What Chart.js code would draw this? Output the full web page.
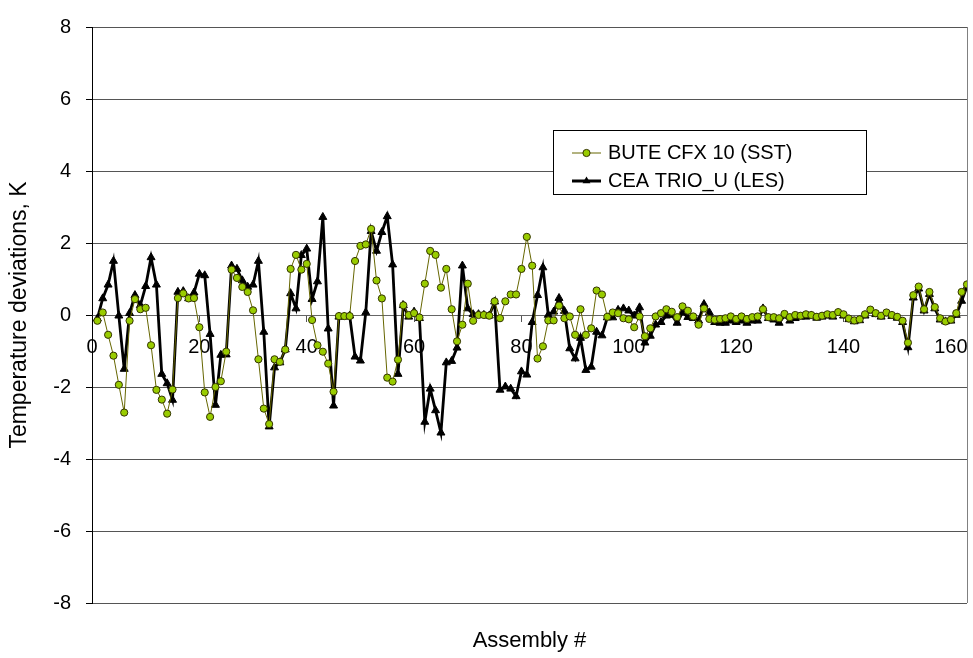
<!DOCTYPE html>
<html>
<head>
<meta charset="utf-8">
<script src="https://cdn.jsdelivr.net/npm/chart.js@4.4.1/dist/chart.umd.min.js"></script>
<style>
  html, body { margin: 0; padding: 0; background: #fff; }
  #wrap { width: 973px; height: 658px; }
</style>
</head>
<body>
<div id="wrap"><canvas id="chart" width="973" height="658"></canvas></div>
<script>
// temperature deviations per assembly
const seriesNames = ["BUTE CFX 10 (SST)", "CEA TRIO_U (LES)"];

const bute = [
  -0.16, 0.07, -0.55, -1.13, -1.94, -2.71, -0.16, 0.44, 0.16, 0.2,
  -0.84, -2.08, -2.35, -2.74, -2.07, 0.47, 0.6, 0.46, 0.47, -0.34,
  -2.15, -2.83, -2.0, -1.84, -1.02, 1.26, 1.03, 0.78, 0.64, 0.13,
  -1.23, -2.6, -3.03, -1.23, -1.3, -0.96, 1.28, 1.67, 1.26, 1.42,
  -0.14, -0.84, -1.02, -1.35, -2.13, -0.03, -0.03, -0.03, 1.5, 1.92,
  1.96, 2.39, 0.96, 0.46, -1.74, -1.85, -1.24, 0.27, 0.0, 0.05,
  -0.07, 0.87, 1.78, 1.67, 0.76, 1.28, 0.16, -0.73, -0.27, 0.87,
  -0.16, 0.0, 0.0, -0.02, 0.38, -0.09, 0.38, 0.57, 0.57, 1.28,
  2.17, 1.37, -1.21, -0.87, -0.15, -0.15, 0.26, -0.09, -0.04, -0.55,
  0.16, -0.55, -0.37, 0.68, 0.57, -0.05, 0.07, 0.05, -0.09, -0.12,
  -0.34, -0.04, -0.59, -0.37, -0.04, 0.05, 0.16, 0.09, -0.06, 0.24,
  0.12, -0.04, -0.27, 0.18, -0.11, -0.13, -0.11, -0.09, -0.04, -0.11,
  -0.04, -0.11, -0.06, -0.04, 0.16, -0.06, -0.06, -0.09, 0.03, -0.06,
  0.0, -0.02, 0.02, 0.0, -0.05, -0.02, 0.02, 0.0, 0.08, 0.02,
  -0.1, -0.15, -0.12, 0.02, 0.15, 0.05, -0.02, 0.07, 0.0, -0.05,
  -0.16, -0.77, 0.55, 0.79, 0.16, 0.64, 0.22, -0.09, -0.18, -0.13,
  0.05, 0.64, 0.85
];

const cea = [
  -0.1, 0.46, 0.84, 1.5, -0.02, -1.5, 0.05, 0.55, 0.27, 0.8,
  1.6, 0.84, -1.64, -1.9, -2.36, 0.64, 0.66, 0.46, 0.62, 1.14,
  1.1, -0.53, -2.5, -1.11, -1.1, 1.37, 1.28, 0.96, 0.78, 0.84,
  1.5, -0.47, -3.1, -1.46, -1.32, -0.96, 0.6, 0.18, 1.66, 1.84,
  0.44, 0.93, 2.72, -0.38, -2.52, -0.05, -0.05, -0.02, -1.16, -1.27,
  0.07, 2.33, 1.78, 2.3, 2.74, 1.4, -1.64, 0.27, -0.05, 0.09,
  -0.09, -2.97, -2.05, -2.65, -3.27, -1.32, -1.28, -0.91, 1.37, 0.18,
  0.02, 0.02, 0.0, -0.02, 0.37, -2.08, -1.99, -2.05, -2.26, -1.57,
  -1.66, -0.2, 0.55, 1.32, 0.0, 0.09, 0.47, 0.11, -0.93, -1.21,
  -0.64, -1.53, -1.44, -0.47, -0.57, -0.07, -0.07, 0.14, 0.18, 0.12,
  -0.02, 0.21, -0.77, -0.58, -0.27, -0.2, -0.02, 0.0, -0.22, 0.07,
  -0.06, -0.09, -0.16, 0.3, 0.07, -0.2, -0.22, -0.22, -0.16, -0.2,
  -0.16, -0.22, -0.16, -0.16, 0.18, -0.09, -0.13, -0.22, -0.02, -0.16,
  -0.09, -0.05, -0.05, -0.02, -0.08, -0.05, -0.02, -0.05, 0.05, -0.02,
  -0.12, -0.18, -0.15, -0.02, 0.12, 0.02, -0.05, 0.04, -0.03, -0.08,
  -0.2, -0.9, 0.48, 0.73, 0.12, 0.58, 0.18, -0.13, -0.18, -0.16,
  0.0, 0.39, 0.79
];

// assembly numbers run 1..163
const assemblies = bute.map((v, k) => k + 1);

const xTitle = "Assembly #";
const yTitle = "Temperature deviations, K";

const FONT = "'Liberation Sans', Arial, sans-serif";

function toPoints(values) {
    return values.map((v, k) => ({ x: assemblies[k], y: v }));
}

// right border, x title and the floating legend
const extras = {
    id: 'extras',
    beforeDatasetsDraw(chart) {
        const c = chart.ctx;
        const a = chart.chartArea;
        c.save();
        c.strokeStyle = '#808080';
        c.lineWidth = 1;
        c.beginPath();
        c.moveTo(Math.round(a.right) + 0.5, a.top);
        c.lineTo(Math.round(a.right) + 0.5, a.bottom);
        c.stroke();
        c.restore();
    },
    afterDraw(chart) {
        const c = chart.ctx;
        const a = chart.chartArea;
        c.save();
        c.fillStyle = '#000';
        c.font = '22px ' + FONT;
        c.textAlign = 'center';
        c.textBaseline = 'middle';
        c.fillText(xTitle, (a.left + a.right) / 2, 641);

        // legend box
        c.fillStyle = '#fff';
        c.fillRect(553, 130, 314, 65);
        c.strokeStyle = '#000';
        c.lineWidth = 1;
        c.strokeRect(553.5, 130.5, 313, 64);

        const rows = [153, 181];
        // row 1: olive line with circle
        c.strokeStyle = '#666600';
        c.lineWidth = 1;
        c.beginPath();
        c.moveTo(572, rows[0]);
        c.lineTo(601, rows[0]);
        c.stroke();
        c.beginPath();
        c.arc(586.5, rows[0], 3.6, 0, Math.PI * 2);
        c.fillStyle = '#99cc00';
        c.fill();
        c.strokeStyle = '#333300';
        c.stroke();

        // row 2: thick black line with triangle
        c.strokeStyle = '#000';
        c.lineWidth = 3;
        c.beginPath();
        c.moveTo(572, rows[1]);
        c.lineTo(601, rows[1]);
        c.stroke();
        const r = 4.6;
        c.fillStyle = '#000';
        c.beginPath();
        c.moveTo(586.5, rows[1] - r);
        c.lineTo(586.5 + r * 0.866, rows[1] + r / 2);
        c.lineTo(586.5 - r * 0.866, rows[1] + r / 2);
        c.closePath();
        c.fill();

        c.fillStyle = '#000';
        c.font = '20px ' + FONT;
        c.textAlign = 'left';
        c.fillText(seriesNames[0], 608, rows[0]);
        c.fillText(seriesNames[1], 608, rows[1]);
        c.restore();
    }
};

const chart = new Chart(document.getElementById('chart'), {
    type: 'line',
    data: {
        datasets: [{
            label: seriesNames[0],
            data: toPoints(bute),
            borderColor: '#666600',
            borderWidth: 1,
            pointStyle: 'circle',
            pointRadius: 3.6,
            pointBackgroundColor: '#99cc00',
            pointBorderColor: '#333300',
            pointBorderWidth: 1,
            tension: 0
        }, {
            label: seriesNames[1],
            data: toPoints(cea),
            borderColor: '#000',
            borderWidth: 2.8,
            pointStyle: 'triangle',
            pointRadius: 4.6,
            pointBackgroundColor: '#000',
            pointBorderColor: '#000',
            pointBorderWidth: 1,
            tension: 0
        }]
    },
    options: {
        responsive: false,
        animation: false,
        layout: {
            padding: { top: 16, right: 6, bottom: 55, left: 0 }
        },
        plugins: {
            legend: { display: false },
            tooltip: { enabled: false }
        },
        scales: {
            x: {
                type: 'linear',
                min: 0,
                max: 163,
                position: { y: 0 },
                ticks: {
                    stepSize: 20,
                    includeBounds: false,
                    maxRotation: 0,
                    color: '#000',
                    padding: 14,
                    font: { family: FONT, size: 20 }
                },
                grid: {
                    drawOnChartArea: false,
                    drawTicks: true,
                    tickLength: 6,
                    color: '#555'
                },
                border: { color: '#666', width: 1 },
                afterFit(scale) {
                    scale.paddingLeft = 0;
                    scale.paddingRight = 0;
                }
            },
            y: {
                min: -8,
                max: 8,
                ticks: {
                    stepSize: 2,
                    color: '#000',
                    padding: 15,
                    font: { family: FONT, size: 20 }
                },
                grid: {
                    color: '#555',
                    tickColor: '#000',
                    tickLength: 6
                },
                border: { color: '#000', width: 1 },
                title: {
                    display: true,
                    text: yTitle,
                    color: '#000',
                    padding: { top: 6, bottom: 0 },
                    font: { family: FONT, size: 23 }
                },
                afterFit(scale) {
                    scale.width = 92;
                }
            }
        }
    },
    plugins: [extras]
});
</script>
</body>
</html>
